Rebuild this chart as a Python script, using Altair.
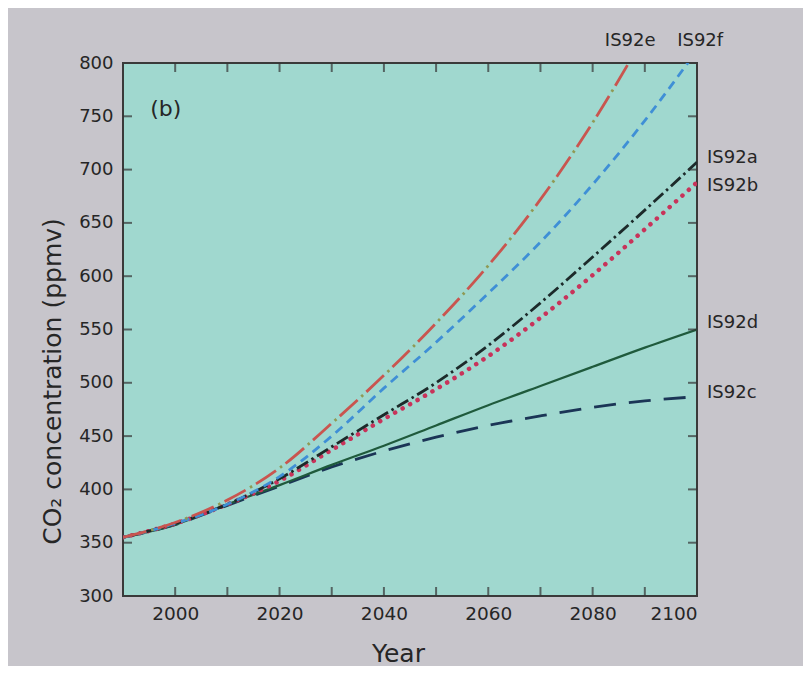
import altair as alt
import pandas as pd

# ---- data ----
years = [1990, 2000, 2010, 2020, 2030, 2040, 2050, 2060, 2070, 2080, 2090, 2100]
is92a = [355, 368, 386, 410, 440, 470, 500, 535, 575, 618, 662, 707]
is92b = [355, 368, 386, 408, 437, 466, 494, 525, 561, 601, 644, 688]
is92c = [355, 367, 385, 403, 421, 436, 449, 460, 469, 477, 483, 487]
is92d = [355, 367, 386, 404, 423, 441, 460, 479, 497, 515, 533, 550]
is92e = [355, 369, 390, 420, 462, 507, 556, 610, 672, 744, 826]
is92f = [355, 368, 386, 412, 450, 495, 538, 584, 632, 686, 746, 812]

label_names = ["IS92e", "IS92f", "IS92a", "IS92b", "IS92d", "IS92c"]
label_years = [2087.2, 2100.6, 2100, 2100, 2100, 2100]
label_values = [820.5, 820.5, 711, 684.5, 556, 490.5]
label_side = ["top", "top", "right", "right", "right", "right"]

panel_label = "(b)"
panel_label_year = 1998.2
panel_label_value = 757

x_domain = [1990, 2100]
y_domain = [300, 800]
x_label_values = [2000, 2020, 2040, 2060, 2080, 2100]
x_tick_values = [2000, 2010, 2020, 2030, 2040, 2050, 2060, 2070, 2080, 2090]
y_tick_values = [350, 400, 450, 500, 550, 600, 650, 700, 750]

TEXT = "#262626"

def series_df(vals):
    return pd.DataFrame({"year": years[:len(vals)], "value": vals})

X = alt.X("year:Q",
          scale=alt.Scale(domain=x_domain, nice=False, zero=False),
          axis=alt.Axis(values=x_label_values, ticks=False, domain=False, grid=False,
                        labelFontSize=18.5, labelPadding=8, labelColor=TEXT,
                        title="Year", titleFontSize=25, titleFontWeight="normal",
                        titleColor=TEXT, titleBaseline="alphabetic",
                        titleX=275, titleY=65, format="d"))
Y = alt.Y("value:Q",
          scale=alt.Scale(domain=y_domain, nice=False, zero=False),
          axis=alt.Axis(values=[300] + y_tick_values + [800], ticks=False, domain=False,
                        grid=False, labelFontSize=18, labelPadding=10, labelColor=TEXT,
                        title="CO₂ concentration (ppmv)", titleFontSize=25,
                        titleFontWeight="normal", titleColor=TEXT,
                        titleBaseline="alphabetic", titleAngle=270,
                        titleX=-63, titleY=318))

def line(vals, color, dash=None, width=2.6, cap="butt", offset=None):
    kw = dict(clip=True, interpolate="monotone", color=color, strokeWidth=width, strokeCap=cap)
    if dash is not None:
        kw["strokeDash"] = dash
    if offset is not None:
        kw["strokeDashOffset"] = offset
    return alt.Chart(series_df(vals)).mark_line(**kw).encode(x=X, y=Y)

layers = [
    line(is92c, "#1b3556", dash=[22, 13], width=2.8),
    line(is92d, "#1f5a3c", width=2.2),
    line(is92b, "#c8335a", dash=[0.1, 8.5], width=4.5, cap="round"),
    line(is92a, "#1c2a2a", dash=[13, 4, 2.5, 4], width=2.8),
    line(is92f, "#3f8fd6", dash=[9, 6], width=2.8),
    line(is92e, "#c9554f", dash=[24, 12], width=2.8),
    line(is92e, "#8f9a55", dash=[2.5, 33.5], width=2.8, offset=7),
]

# inward ticks on all four sides
tick_color = "#333333"
bottom_top = pd.DataFrame({
    "year": x_tick_values * 2,
    "value": [y_domain[0]] * len(x_tick_values) + [y_domain[1]] * len(x_tick_values),
})
left_right = pd.DataFrame({
    "year": [x_domain[0]] * len(y_tick_values) + [x_domain[1]] * len(y_tick_values),
    "value": y_tick_values * 2,
})
ticks_v = alt.Chart(bottom_top).mark_tick(orient="vertical", size=18, thickness=2,
                                          clip=True, color=tick_color).encode(x=X, y=Y)
ticks_h = alt.Chart(left_right).mark_tick(orient="horizontal", size=18, thickness=2,
                                          clip=True, color=tick_color).encode(x=X, y=Y)

labels = pd.DataFrame({"name": label_names, "year": label_years,
                       "value": label_values, "side": label_side})
lab_right = alt.Chart(labels[labels.side == "right"]).mark_text(
    align="left", baseline="middle", dx=10, fontSize=18, color=TEXT
).encode(x=X, y=Y, text="name:N")
lab_top = alt.Chart(labels[labels.side == "top"]).mark_text(
    align="center", baseline="middle", fontSize=18, color=TEXT
).encode(x=X, y=Y, text="name:N")

panel = alt.Chart(pd.DataFrame({"year": [panel_label_year], "value": [panel_label_value],
                                "t": [panel_label]})).mark_text(
    align="center", baseline="middle", fontSize=22, color=TEXT
).encode(x=X, y=Y, text="t:N")

chart = alt.layer(*layers, ticks_v, ticks_h, lab_right, lab_top, panel).properties(
    width=574, height=533,
    autosize=alt.AutoSizeParams(type="none"),
    padding={"left": 115, "top": 55, "right": 106, "bottom": 70},
).configure(
    font="DejaVu Sans", background="#c7c5cb"
).configure_view(
    fill="#a0d8cf", stroke="#3a3a3a", strokeWidth=2
)

chart.save("out.html", embed_options={"renderer": "svg", "actions": False})
